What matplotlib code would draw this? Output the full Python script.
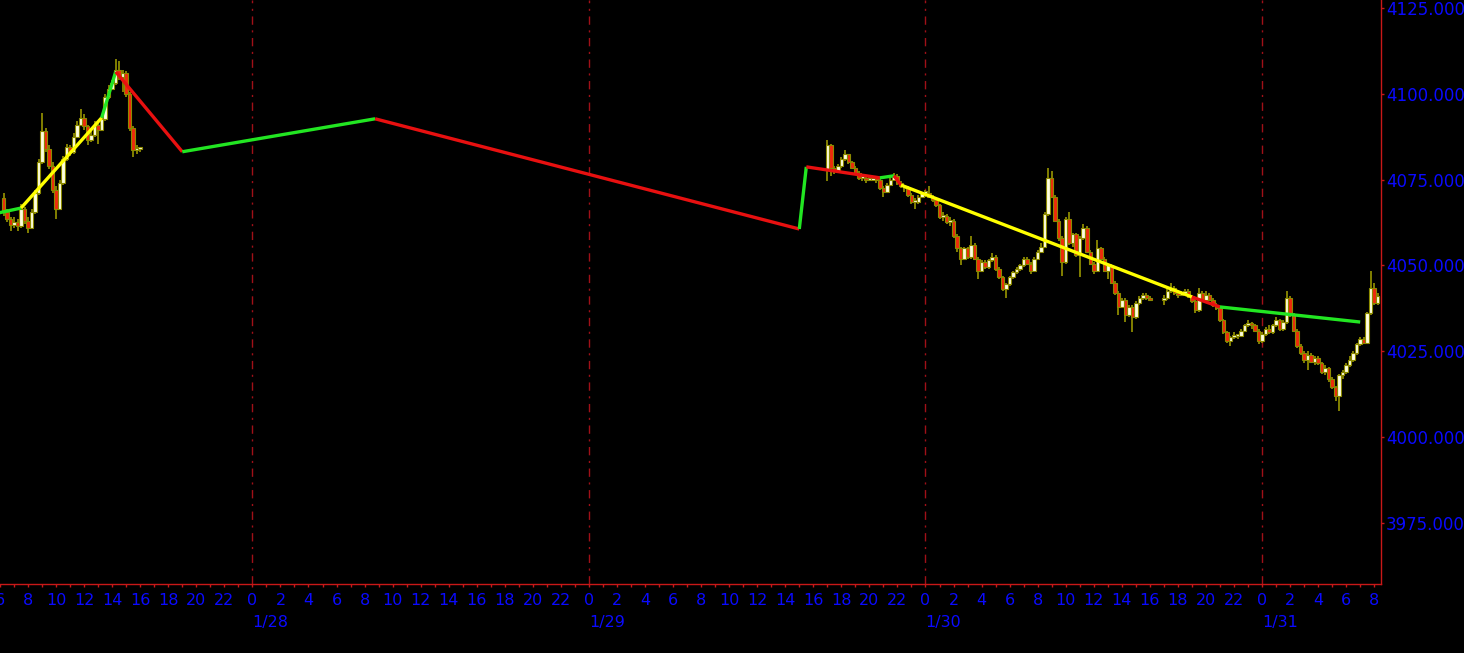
import matplotlib
matplotlib.use("Agg")
import matplotlib.pyplot as plt
import matplotlib.dates as mdates
import matplotlib.ticker as mticker
from matplotlib.transforms import blended_transform_factory
import numpy as np
import pandas as pd

# ---------------- data (15 min bars) ----------------
# session 1 : 1/27 06:15 - 16:00
s1_start = "2023-01-27 06:15"
s1_open0 = 4069.5
s1_close = [4065.5, 4063.5, 4061.8, 4062.5, 4061.5, 4066.5, 4063.0, 4061.0, 4065.5, 4071.0,
            4080.0, 4089.0, 4084.0, 4079.0, 4072.0, 4066.5, 4074.0, 4081.0, 4084.5, 4083.0,
            4087.5, 4091.0, 4093.0, 4090.5, 4086.5, 4088.0, 4091.0, 4089.5, 4092.5, 4099.0,
            4101.5, 4103.0, 4107.0, 4105.0, 4106.0, 4100.0, 4090.0, 4083.5, 4084.0, 4084.0]
s1_high = [4071.0, 4066.5, 4064.0, 4064.0, 4063.5, 4068.0, 4067.0, 4064.0, 4066.5, 4072.0,
           4081.0, 4094.5, 4090.0, 4085.0, 4080.0, 4073.0, 4075.0, 4082.0, 4085.5, 4085.0,
           4088.5, 4092.0, 4095.5, 4094.0, 4091.0, 4089.0, 4092.0, 4091.5, 4093.5, 4100.0,
           4102.5, 4104.0, 4110.0, 4109.5, 4107.0, 4106.5, 4100.5, 4090.5, 4085.0, 4084.5]
s1_low = [4064.5, 4062.5, 4060.0, 4061.0, 4060.0, 4061.0, 4062.0, 4059.5, 4060.5, 4065.0,
          4070.5, 4079.5, 4083.0, 4078.0, 4071.0, 4063.5, 4066.0, 4073.5, 4080.5, 4082.0,
          4082.5, 4087.0, 4090.5, 4089.5, 4085.0, 4086.0, 4087.5, 4085.5, 4089.0, 4092.0,
          4098.5, 4101.0, 4102.5, 4104.0, 4100.5, 4099.0, 4089.0, 4081.5, 4082.5, 4083.0]

# session 2 : 1/29 17:00 - 1/30 16:00
s2_start = "2023-01-29 17:00"
s2_open0 = 4078.0
s2_close = [4085.0, 4078.5, 4077.5, 4079.0, 4081.0, 4082.5, 4080.0, 4078.5, 4077.0, 4075.5,
            4075.5, 4075.0, 4075.0, 4075.5, 4075.0, 4072.5, 4071.5, 4073.5, 4075.0, 4076.0,
            4074.0, 4073.0, 4072.5, 4070.5, 4068.5, 4068.5, 4070.0, 4071.0, 4071.0, 4070.0,
            4069.0, 4067.5, 4064.0, 4064.5, 4062.5, 4063.0, 4058.5, 4055.0, 4052.0, 4055.0,
            4052.5, 4056.0, 4052.0, 4048.5, 4051.0, 4049.5, 4051.5, 4052.5, 4049.0, 4046.5,
            4043.0, 4044.5, 4046.5, 4048.0, 4049.0, 4050.0, 4052.0, 4050.5, 4048.5, 4052.0,
            4054.0, 4055.5, 4065.0, 4075.5, 4070.0, 4063.0, 4058.0, 4051.0, 4063.5, 4056.5,
            4059.0, 4053.0, 4058.0, 4061.0, 4054.0, 4050.5, 4048.5, 4055.0, 4052.0, 4048.5,
            4050.0, 4045.0, 4042.0, 4038.0, 4040.0, 4035.5, 4038.0, 4035.0, 4039.0, 4040.5,
            4041.5, 4040.5, 4040.0]
s2_high = [4086.5, 4085.5, 4079.0, 4079.5, 4081.5, 4083.5, 4082.5, 4080.5, 4079.0, 4077.5,
           4076.5, 4076.0, 4076.0, 4076.0, 4076.0, 4075.5, 4073.0, 4074.0, 4075.5, 4077.0,
           4076.5, 4074.5, 4073.5, 4073.0, 4071.0, 4069.5, 4070.5, 4071.5, 4072.0, 4073.0,
           4070.5, 4069.5, 4068.0, 4065.5, 4065.0, 4064.0, 4063.5, 4059.0, 4055.5, 4055.5,
           4055.5, 4058.5, 4056.5, 4052.5, 4051.5, 4051.5, 4052.0, 4053.5, 4053.0, 4049.5,
           4047.0, 4045.0, 4047.0, 4048.5, 4049.5, 4050.5, 4052.5, 4052.5, 4051.0, 4052.5,
           4054.5, 4056.5, 4065.5, 4078.5, 4077.5, 4070.5, 4063.5, 4058.5, 4064.0, 4065.5,
           4059.5, 4059.5, 4058.5, 4062.0, 4061.5, 4054.5, 4051.0, 4057.5, 4055.5, 4052.5,
           4050.5, 4050.5, 4045.5, 4042.5, 4040.5, 4040.5, 4038.5, 4038.5, 4039.5, 4041.0,
           4042.0, 4042.0, 4041.0]
s2_low = [4074.5, 4076.0, 4076.5, 4077.0, 4078.5, 4080.5, 4079.5, 4078.0, 4076.5, 4075.0,
          4074.5, 4074.0, 4074.5, 4074.5, 4074.0, 4072.0, 4070.0, 4071.0, 4073.0, 4074.5,
          4073.5, 4072.5, 4071.5, 4070.0, 4068.0, 4066.5, 4068.0, 4069.5, 4070.0, 4069.5,
          4068.5, 4067.0, 4063.5, 4063.0, 4062.0, 4061.5, 4058.0, 4054.0, 4050.0, 4051.5,
          4052.0, 4052.0, 4051.5, 4046.0, 4048.0, 4049.0, 4049.0, 4051.0, 4048.5, 4046.0,
          4042.5, 4040.5, 4044.0, 4046.0, 4047.5, 4048.5, 4049.5, 4050.0, 4047.5, 4048.0,
          4051.5, 4053.5, 4055.0, 4064.5, 4069.5, 4062.5, 4057.0, 4047.0, 4050.5, 4056.0,
          4055.5, 4052.5, 4046.5, 4057.5, 4053.5, 4050.0, 4047.5, 4048.0, 4051.5, 4048.0,
          4046.0, 4044.5, 4041.5, 4035.5, 4037.5, 4033.5, 4035.0, 4030.5, 4034.5, 4038.5,
          4040.0, 4040.0, 4039.5]

# session 3 : 1/30 17:00 - 1/31 08:15
s3_start = "2023-01-30 17:00"
s3_open0 = 4040.0
s3_close = [4040.5, 4042.5, 4043.5, 4042.0, 4041.5, 4042.0, 4042.5, 4041.0, 4039.5, 4037.0,
            4042.0, 4040.0, 4041.5, 4040.0, 4038.5, 4037.5, 4034.0, 4030.5, 4028.0, 4029.0,
            4029.5, 4029.5, 4031.0, 4032.5, 4033.0, 4032.5, 4031.0, 4028.0, 4030.0, 4031.5,
            4030.5, 4032.5, 4034.0, 4031.5, 4033.5, 4040.5, 4035.5, 4031.0, 4026.5, 4024.5,
            4022.5, 4024.0, 4022.0, 4023.0, 4021.5, 4019.0, 4020.0, 4017.0, 4014.5, 4012.0,
            4018.0, 4019.0, 4021.0, 4022.5, 4024.5, 4027.0, 4028.5, 4027.5, 4036.0, 4043.5,
            4039.0, 4041.0]
s3_high = [4041.5, 4043.0, 4045.0, 4044.0, 4042.5, 4042.5, 4043.0, 4043.0, 4041.5, 4040.0,
           4043.5, 4042.5, 4042.5, 4042.0, 4040.5, 4039.0, 4038.0, 4034.5, 4031.0, 4029.5,
           4030.5, 4030.0, 4031.5, 4033.0, 4034.0, 4033.5, 4033.0, 4031.5, 4030.5, 4032.0,
           4032.5, 4033.0, 4035.0, 4034.5, 4034.0, 4042.5, 4041.0, 4036.0, 4031.5, 4027.0,
           4025.0, 4025.0, 4024.5, 4023.5, 4023.5, 4022.0, 4021.0, 4020.5, 4017.5, 4015.0,
           4018.5, 4019.5, 4021.5, 4023.5, 4025.0, 4027.5, 4029.0, 4029.0, 4036.5, 4048.5,
           4045.0, 4042.0]
s3_low = [4038.5, 4040.0, 4042.0, 4041.5, 4040.5, 4041.0, 4041.5, 4040.5, 4039.0, 4036.0,
          4036.5, 4039.5, 4039.5, 4039.5, 4038.0, 4037.0, 4033.5, 4030.0, 4027.5, 4026.5,
          4028.5, 4028.5, 4029.0, 4030.5, 4032.0, 4031.5, 4030.5, 4027.0, 4027.5, 4029.5,
          4030.0, 4030.0, 4032.0, 4031.0, 4031.0, 4033.0, 4035.0, 4030.5, 4026.0, 4024.0,
          4021.5, 4019.5, 4021.5, 4021.0, 4021.0, 4018.5, 4018.0, 4016.0, 4014.0, 4010.5,
          4007.5, 4017.0, 4018.5, 4020.5, 4022.0, 4024.0, 4026.5, 4027.0, 4027.0, 4035.5,
          4038.5, 4038.5]

# zigzag overlay
zz_time = ["2023-01-27 05:00", "2023-01-27 07:30", "2023-01-27 13:15", "2023-01-27 14:15",
           "2023-01-27 19:00", "2023-01-28 08:45", "2023-01-29 15:00", "2023-01-29 15:30",
           "2023-01-29 20:45", "2023-01-29 21:45", "2023-01-29 22:15", "2023-01-30 19:00",
           "2023-01-30 21:00", "2023-01-31 07:00"]
zz_price = [4064.5, 4066.7, 4093.0, 4106.4, 4083.1, 4092.7, 4060.6, 4078.7,
            4075.5, 4076.1, 4073.4, 4040.8, 4037.9, 4033.5]
zz_color = ["g", "y", "g", "r", "g", "r", "g", "r", "g", "r", "y", "r", "g"]

day_starts = ["2023-01-28", "2023-01-29", "2023-01-30", "2023-01-31"]
day_labels = ["1/28", "1/29", "1/30", "1/31"]
y_ticks = [3975, 4000, 4025, 4050, 4075, 4100, 4125]

# ---------------- style ----------------
BG = "black"
AXIS_RED = "#c81818"
GRID_RED = "#a01018"
LABEL_BLUE = "#0a0aff"
WICK = "#8c8a00"
UP = "#ffffe0"
DOWN = "#ee2a0c"
ZZ = {"g": "#22e622", "y": "#ffff00", "r": "#e81010"}
BAR_W = 1.0 / 96

fig = plt.figure(figsize=(14.64, 6.53), dpi=100)
fig.set_facecolor(BG)
ax = fig.add_axes([0, 1 - 584 / 653, 1381 / 1464, 584 / 653])
ax.set_facecolor(BG)


def draw_candles(start, open0, close, high, low):
    close = np.asarray(close, float)
    opens = np.r_[open0, close[:-1]]
    times = pd.date_range(start, periods=len(close), freq="15min")
    x = mdates.date2num(times.to_pydatetime())
    ax.vlines(x, low, high, color=WICK, lw=1.3, zorder=2)
    up = close >= opens
    body = np.maximum(np.abs(close - opens), 0.6)
    bottom = np.minimum(opens, close)
    ax.bar(x[up], body[up], bottom=bottom[up], width=BAR_W, color=UP,
           edgecolor=WICK, linewidth=0.8, zorder=3)
    ax.bar(x[~up], body[~up], bottom=bottom[~up], width=BAR_W, color=DOWN,
           edgecolor=WICK, linewidth=0.8, zorder=3)


draw_candles(s1_start, s1_open0, s1_close, s1_high, s1_low)
draw_candles(s2_start, s2_open0, s2_close, s2_high, s2_low)
draw_candles(s3_start, s3_open0, s3_close, s3_high, s3_low)

# zigzag
zx = mdates.date2num(pd.to_datetime(zz_time).to_pydatetime())
for i, c in enumerate(zz_color):
    ax.plot(zx[i:i + 2], zz_price[i:i + 2], color=ZZ[c], lw=2.4,
            solid_capstyle="butt", zorder=5)

# day separators
dx = mdates.date2num(pd.to_datetime(day_starts).to_pydatetime())
for d in dx:
    ax.axvline(d, color=GRID_RED, lw=1.0, ls=(0, (6, 4, 1.5, 4)), zorder=1)

# axes limits
ax.set_xlim(mdates.date2num(pd.Timestamp("2023-01-27 06:00")),
            mdates.date2num(pd.Timestamp("2023-01-31 08:29")))
ax.set_ylim(3957.2, 4127.3)

# spines
for s in ["left", "top"]:
    ax.spines[s].set_visible(False)
for s in ["right", "bottom"]:
    ax.spines[s].set_color(AXIS_RED)
    ax.spines[s].set_linewidth(1.0)

# y axis on the right
ax.yaxis.tick_right()
ax.set_yticks(y_ticks)
ax.yaxis.set_major_formatter(mticker.FormatStrFormatter("%.4f"))
ax.tick_params(axis="y", colors=AXIS_RED, labelcolor=LABEL_BLUE, length=2.5,
               width=1, pad=1, labelsize=12, direction="out")

# x axis hours
ax.xaxis.set_major_locator(mdates.HourLocator(byhour=range(0, 24, 2)))
ax.xaxis.set_minor_locator(mdates.HourLocator())
ax.xaxis.set_major_formatter(
    mticker.FuncFormatter(lambda v, p: str(mdates.num2date(v).hour)))
ax.tick_params(axis="x", which="both", colors=AXIS_RED, labelcolor=LABEL_BLUE,
               length=1.8, width=1, direction="out")
ax.tick_params(axis="x", which="major", pad=5, labelsize=11.5)

# date labels under midnight ticks
trans = blended_transform_factory(ax.transData, fig.transFigure)
for d, lab in zip(dx, day_labels):
    ax.text(d, 1 - 623 / 653, lab, transform=trans, ha="left", va="center",
            color=LABEL_BLUE, fontsize=11.5, clip_on=False)

fig.savefig("out.png", dpi=100, facecolor=BG)
